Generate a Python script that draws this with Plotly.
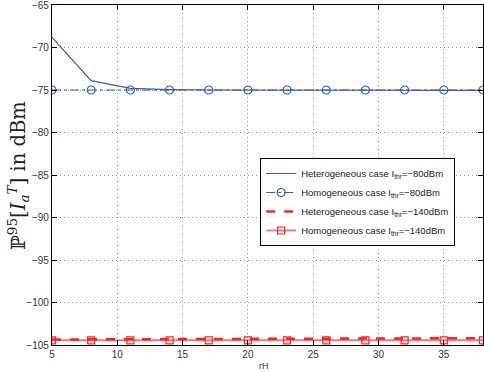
import plotly.graph_objects as go

rH = [5, 8, 11, 14, 17, 20, 23, 26, 29, 32, 35, 38]
het_80 = [-68.8, -73.9, -74.8, -74.95, -75.0, -75.0, -75.0, -75.02, -75.03, -75.03, -75.04, -75.05]
hom_80 = [-75.0, -75.0, -75.0, -75.0, -75.0, -75.0, -75.0, -75.0, -75.0, -75.0, -75.0, -75.0]
het_140 = [-104.35, -104.34, -104.33, -104.32, -104.3, -104.29, -104.28, -104.27, -104.25, -104.24, -104.22, -104.2]
hom_140 = [-104.45, -104.45, -104.45, -104.45, -104.45, -104.45, -104.45, -104.45, -104.45, -104.45, -104.45, -104.45]

x_ticks = [5, 10, 15, 20, 25, 30, 35]
y_ticks = [-65, -70, -75, -80, -85, -90, -95, -100, -105]

blue = "#3a5bb0"
red = "#ff2020"

fig = go.Figure()
fig.add_trace(go.Scatter(x=rH, y=het_80, mode="lines",
                         line=dict(color=blue, width=1.2), legendrank=1,
                         name="Heterogeneous case I<sub>thr</sub>=−80dBm"))
fig.add_trace(go.Scatter(x=rH, y=hom_80, mode="lines+markers",
                         line=dict(color=blue, width=1.2, dash="dashdot"), legendrank=2,
                         marker=dict(symbol="circle-open", size=8, color=blue, line=dict(width=1.2)),
                         name="Homogeneous case I<sub>thr</sub>=−80dBm"))
fig.add_trace(go.Scatter(x=rH, y=hom_140, mode="lines+markers",
                         line=dict(color="#f07a7a", width=2), legendrank=4,
                         marker=dict(symbol="square-open", size=7, color=red, line=dict(width=1.2)),
                         name="Homogeneous case I<sub>thr</sub>=−140dBm"))
fig.add_trace(go.Scatter(x=rH, y=het_140, mode="lines",
                         line=dict(color=red, width=2.5, dash="dash"), legendrank=3,
                         name="Heterogeneous case I<sub>thr</sub>=−140dBm"))

axis_common = dict(showline=True, linecolor="black", linewidth=1.2, mirror="ticks",
                   ticks="inside", ticklen=5, tickcolor="black",
                   showgrid=True, gridcolor="#999999", griddash="1px,3px", gridwidth=1,
                   zeroline=False, automargin=False, ticklabeloverflow="allow",
                   tickfont=dict(family="Arial", size=10, color="#333333"))

fig.update_xaxes(range=[5, 38], tickvals=x_ticks, **axis_common)
fig.update_yaxes(range=[-105, -65], tickvals=y_ticks, **axis_common)

fig.add_annotation(xref="paper", yref="paper", x=-0.079, y=0.5, xanchor="center", yanchor="middle",
                   text="ℙ<sup>95</sup>[<i>I</i><sub><i>a</i></sub><sup><i>T</i></sup>] in dBm",
                   textangle=-90, showarrow=False,
                   font=dict(family="DejaVu Serif", size=19.5, color="#222222"))
fig.add_annotation(xref="paper", yref="paper", x=0.492, y=-0.04, xanchor="center", yanchor="top",
                   text="rH", showarrow=False,
                   font=dict(family="Arial", size=9, color="#333333"))

fig.update_layout(width=484, height=372,
                  margin=dict(l=52, r=1, t=5, b=27),
                  paper_bgcolor="white", plot_bgcolor="white",
                  showlegend=True,
                  legend=dict(x=0.483, y=0.55, xanchor="left", yanchor="top",
                              traceorder="normal",
                              bgcolor="white", bordercolor="black", borderwidth=1,
                              font=dict(family="Arial", size=9.5, color="#222222"),
                              tracegroupgap=0, itemwidth=30))

fig.write_html("out.html", config={"displayModeBar": False},
               post_script="document.body.style.margin='0';document.body.style.overflow='hidden';")
